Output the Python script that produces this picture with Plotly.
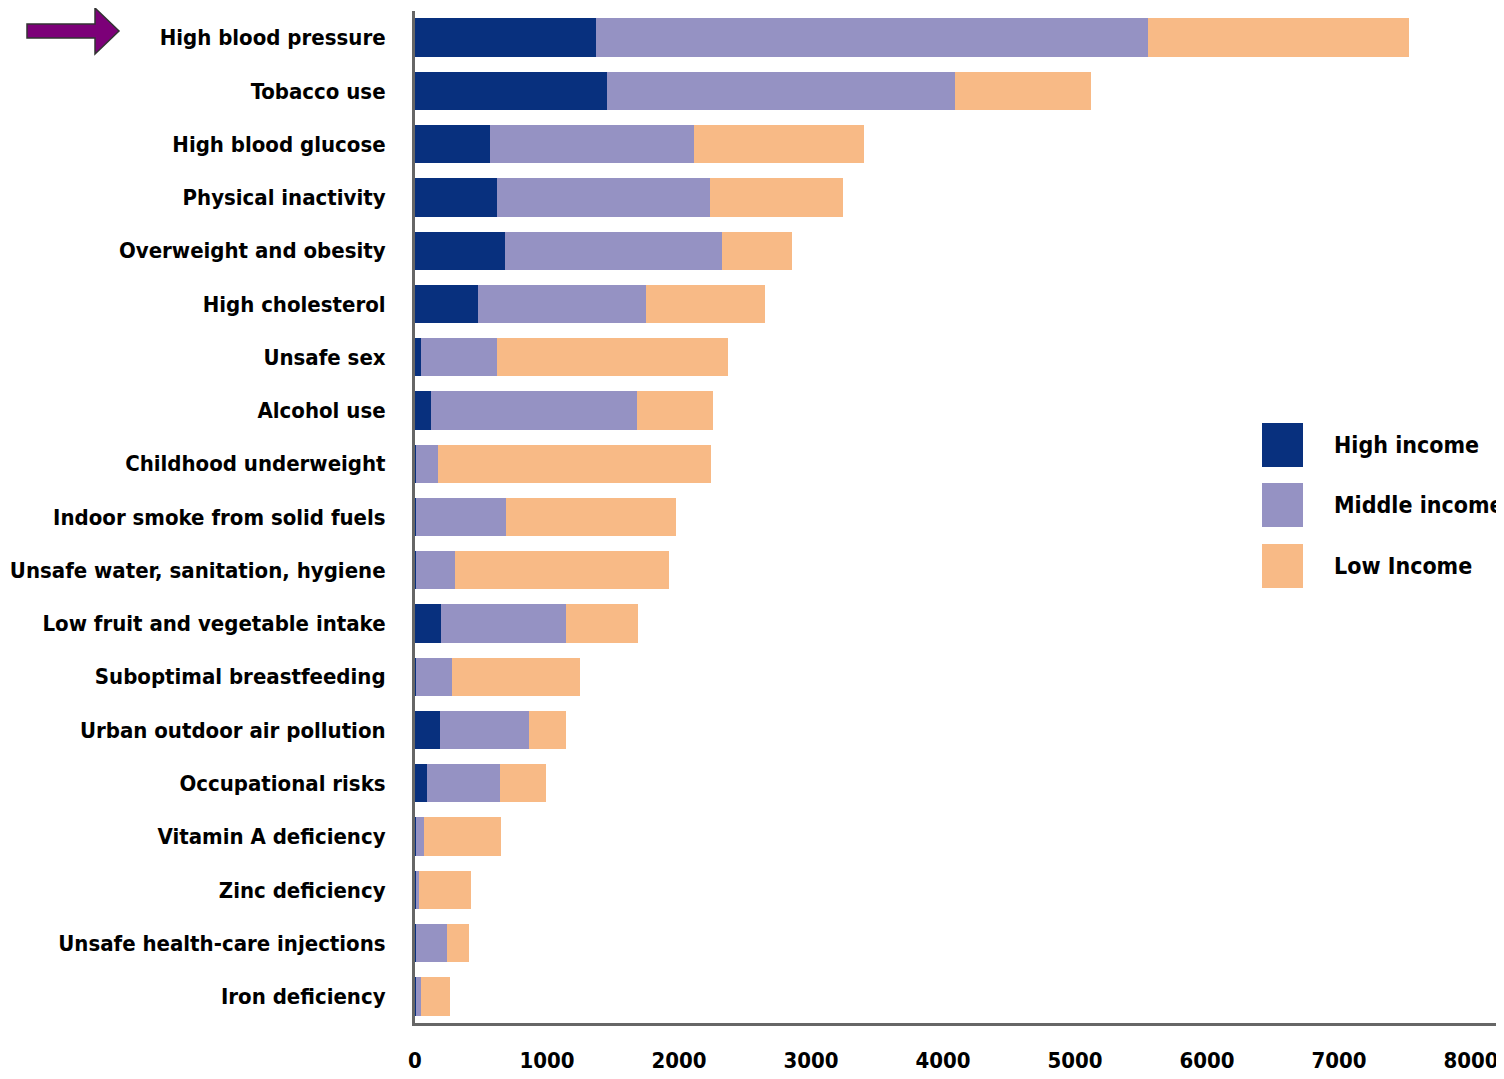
import plotly.graph_objects as go

categories = [
    "High blood pressure", "Tobacco use", "High blood glucose", "Physical inactivity",
    "Overweight and obesity", "High cholesterol", "Unsafe sex", "Alcohol use",
    "Childhood underweight", "Indoor smoke from solid fuels",
    "Unsafe water, sanitation, hygiene", "Low fruit and vegetable intake",
    "Suboptimal breastfeeding", "Urban outdoor air pollution", "Occupational risks",
    "Vitamin A deficiency", "Zinc deficiency", "Unsafe health-care injections",
    "Iron deficiency",
]
high_income = [1373, 1457, 569, 622, 683, 478, 46, 121, 5, 5, 5, 197, 5, 190, 91, 5, 5, 5, 5]
middle_income = [4181, 2633, 1548, 1616, 1646, 1275, 576, 1563, 170, 685, 298, 949, 276, 675, 554, 63, 25, 238, 41]
low_income = [1973, 1031, 1282, 1002, 524, 895, 1753, 577, 2071, 1290, 1624, 546, 971, 281, 349, 584, 395, 167, 220]
series_names = ["High income", "Middle income", "Low Income"]
series_colors = ["#08307E", "#9592C3", "#F8BA86"]
tick_values = [0, 1000, 2000, 3000, 4000, 5000, 6000, 7000, 8000]

# page body has an 8px margin; figure is sized so it ends at the window edge
OFF = 8
W, H = 1504 - OFF, 1079 - OFF
ML, MR, MT, MB = 415 - OFF, 4, 11 - OFF, 56
PW = W - ML - MR
PH = H - MT - MB

FONT = "DejaVu Sans Condensed, Liberation Sans Narrow, sans-serif"

fig = go.Figure()
for name, vals, col in zip(series_names, [high_income, middle_income, low_income], series_colors):
    fig.add_trace(go.Bar(y=categories, x=vals, orientation="h", name=name,
                         marker=dict(color=col, line=dict(width=0)), showlegend=False))

def px_x(p):
    return (p - OFF - ML) / PW

def px_y(p):
    return 1 - (p - OFF - MT) / PH

shapes = []
annotations = []
# legend (manual, large swatches)
leg_y = [445, 505, 566]
for name, col, yc in zip(series_names, series_colors, leg_y):
    shapes.append(dict(type="rect", xref="paper", yref="paper",
                       x0=px_x(1262), x1=px_x(1303), y0=px_y(yc - 22), y1=px_y(yc + 22),
                       fillcolor=col, line=dict(width=0)))
    annotations.append(dict(xref="paper", yref="paper", x=px_x(1332), y=px_y(yc),
                            text=name, showarrow=False, xanchor="left", yanchor="middle",
                            font=dict(family=FONT, size=23, color="black", weight="bold")))

# purple arrow
pts = [(27, 24), (95, 24), (95, 8), (119, 31), (95, 54), (95, 38), (27, 38)]
path = "M " + " L ".join(f"{px_x(a)},{px_y(b)}" for a, b in pts) + " Z"
shapes.append(dict(type="path", xref="paper", yref="paper", path=path,
                   fillcolor="#7C0078", line=dict(color="#333333", width=1.5)))

fig.update_layout(
    width=W, height=H,
    margin=dict(l=ML, r=MR, t=MT, b=MB, pad=0, autoexpand=False),
    barmode="stack", bargap=0.28,
    plot_bgcolor="white", paper_bgcolor="white",
    shapes=shapes, annotations=annotations,
    font=dict(family=FONT, color="black"),
)
fig.update_xaxes(range=[0, 8220], tickvals=tick_values, ticktext=[str(v) for v in tick_values],
                 showgrid=False, zeroline=False, showline=True, linecolor="#666666", linewidth=3,
                 ticks="", ticklabelstandoff=16, automargin=False,
                 tickfont=dict(family=FONT, size=22, color="black", weight="bold"))
fig.update_yaxes(autorange="reversed", showgrid=False, zeroline=False, showline=True,
                 linecolor="#666666", linewidth=3, ticks="", ticklabelstandoff=22, automargin=False,
                 tickfont=dict(family=FONT, size=22, color="black", weight="bold"))

fig.write_html("out.html")
